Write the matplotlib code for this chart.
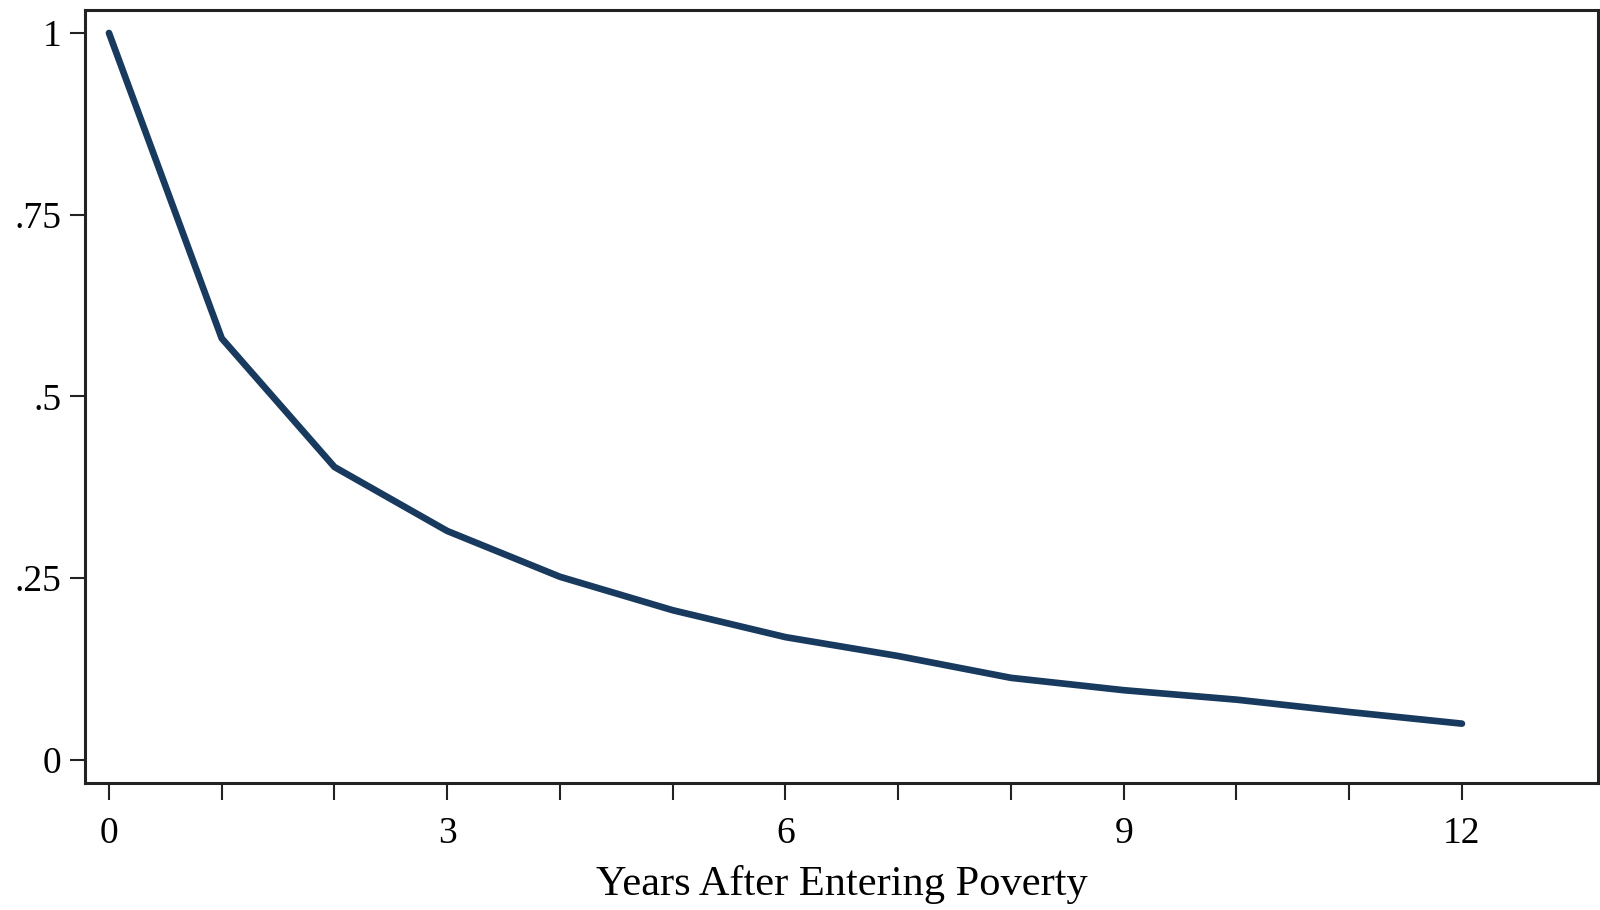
import matplotlib
matplotlib.use("Agg")
import matplotlib.pyplot as plt
from matplotlib.ticker import FixedLocator, FixedFormatter

# Share of poverty spells still ongoing, by years since entry
years = [0, 1, 2, 3, 4, 5, 6, 7, 8, 9, 10, 11, 12]
share_poor = [1.0, 0.580, 0.403, 0.315, 0.252, 0.206, 0.169, 0.143, 0.113, 0.096, 0.083, 0.066, 0.050]

y_ticks = [0, 0.25, 0.5, 0.75, 1]
y_labels = ["0", ".25", ".5", ".75", "1"]
x_ticks = [0, 3, 6, 9, 12]
x_labels = ["0", "3", "6", "9", "12"]
x_title = "Years After Entering Poverty"

plt.rcParams["font.family"] = ["Liberation Serif", "DejaVu Serif"]

fig = plt.figure(figsize=(16, 9.1), dpi=100)
ax = fig.add_axes([0.0531, 0.1396, 0.9456, 0.8494])

ax.plot(years, share_poor, color="#173a5e", linewidth=4.8,
        solid_capstyle="round", solid_joinstyle="round")

ax.set_xlim(-0.213, 13.206)
ax.set_ylim(-0.0316, 1.0316)

ax.xaxis.set_major_locator(FixedLocator(x_ticks))
ax.xaxis.set_major_formatter(FixedFormatter(x_labels))
ax.xaxis.set_minor_locator(FixedLocator(years))
ax.yaxis.set_major_locator(FixedLocator(y_ticks))
ax.yaxis.set_major_formatter(FixedFormatter(y_labels))

ax.tick_params(axis="x", which="both", direction="out", length=12, width=1.5,
               color="#222222", pad=12, labelsize=27)
ax.tick_params(axis="y", which="major", direction="out", length=11, width=1.5,
               color="#222222", pad=6, labelsize=27)

for side in ax.spines.values():
    side.set_linewidth(2.2)
    side.set_color("#222222")

ax.set_xlabel(x_title, fontsize=30.5, labelpad=10)

fig.savefig("out.png", dpi=100, facecolor="white")
